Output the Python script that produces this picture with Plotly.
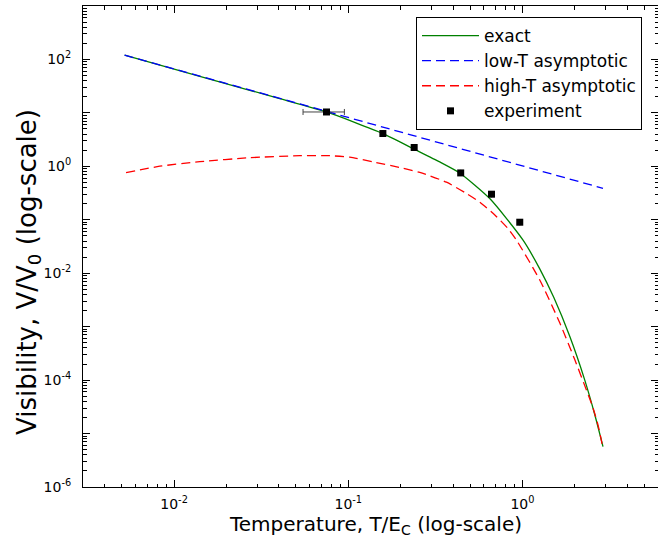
import plotly.graph_objects as go
import math

# ---- data ----
exact_T = [0.0052, 0.01405, 0.0272, 0.0404, 0.075, 0.158, 0.2355, 0.335, 0.436,
           0.649, 1.008, 1.257, 1.512, 1.868, 2.279, 2.6, 2.9]
exact_V = [120, 48.4, 26.5, 18.5, 10.4, 4.11, 2.15, 1.21, 0.753,
           0.250, 0.0416, 0.01208, 3.54e-3, 6.61e-4, 1.0e-4, 2.27e-5, 5.68e-6]

lowT_T = [0.0052, 2.9]
lowT_V = [120, 0.388]

highT_T = [0.0053, 0.00828, 0.01405, 0.0272, 0.0527, 0.0783, 0.102, 0.1388, 0.1975, 0.2573,
           0.3663, 0.477, 0.5687, 0.701, 0.827, 0.924, 1.257, 1.637, 1.996, 2.33,
           2.543, 2.716, 2.9]
highT_V = [0.76, 1.005, 1.22, 1.45, 1.58, 1.58, 1.48, 1.21, 0.95, 0.77,
           0.505, 0.310, 0.2133, 0.1193, 0.0682, 0.0416, 7.48e-3, 1.18e-3, 2.42e-4, 6.51e-5,
           3.0e-5, 1.44e-5, 5.3e-6]

exp_T = [0.075, 0.158, 0.239, 0.442, 0.664, 0.965]
exp_V = [10.4, 4.11, 2.25, 0.753, 0.301, 0.090]
exp_Terr = [0.02, 0, 0, 0, 0, 0]

x_major = [0.01, 0.1, 1]
x_major_text = ["10<sup>-2</sup>", "10<sup>-1</sup>", "10<sup>0</sup>"]
y_major = [1e-6, 1e-5, 1e-4, 1e-3, 1e-2, 1e-1, 1, 10, 100, 1000]
y_major_text = ["10<sup>-6</sup>", "", "10<sup>-4</sup>", "", "10<sup>-2</sup>", "",
                "10<sup>0</sup>", "", "10<sup>2</sup>", ""]

x_minor = [m * 10 ** e for e in range(-3, 1) for m in range(2, 10)]
y_minor = [m * 10 ** e for e in range(-6, 3) for m in range(2, 10)]

x_title = "Temperature, T/E<sub>C</sub> (log-scale)"
y_title = "Visibility, V/V<sub>0</sub> (log-scale)"

FONT = "DejaVu Sans"
W, H = 658, 545
L, R, T, B = 83, 0, 6, 58

fig = go.Figure()
fig.add_trace(go.Scatter(x=exact_T, y=exact_V, mode="lines", name="exact",
                         line=dict(color="#008000", width=1.3, shape="spline", smoothing=0.6)))
fig.add_trace(go.Scatter(x=lowT_T, y=lowT_V, mode="lines", name="low-T asymptotic",
                         line=dict(color="#0000ff", width=1.3, dash="9px,5px")))
fig.add_trace(go.Scatter(x=highT_T, y=highT_V, mode="lines", name="high-T asymptotic",
                         line=dict(color="#ff0000", width=1.3, dash="9px,5px",
                                   shape="spline", smoothing=0.6)))
fig.add_trace(go.Scatter(x=exp_T, y=exp_V, mode="markers", name="experiment",
                         marker=dict(symbol="square", size=7, color="black"),
                         error_x=dict(type="data", array=exp_Terr, color="#444444",
                                      thickness=1, width=3)))

axis_common = dict(showline=True, linecolor="black", linewidth=1, mirror="ticks",
                   ticks="inside", tickcolor="black", ticklen=7, tickwidth=1,
                   showgrid=False, zeroline=False, automargin=False,
                   tickfont=dict(family=FONT, size=14, color="black"))

fig.update_xaxes(type="log", range=[math.log10(0.003), math.log10(6)],
                 tickmode="array", tickvals=x_major, ticktext=x_major_text,
                 ticklabelstandoff=4,
                 minor=dict(tickmode="array", tickvals=x_minor, ticks="inside",
                            ticklen=3.5, tickcolor="black", tickwidth=1, showgrid=False),
                 **axis_common)
fig.update_yaxes(type="log", range=[-6, 3],
                 tickmode="array", tickvals=y_major, ticktext=y_major_text,
                 ticklabelstandoff=8,
                 minor=dict(tickmode="array", tickvals=y_minor, ticks="inside",
                            ticklen=3.5, tickcolor="black", tickwidth=1, showgrid=False),
                 **axis_common)

# axis titles placed as annotations (paper coords derived from pixel layout)
fig.add_annotation(text=x_title, xref="paper", yref="paper",
                   x=(375.5 - L) / (W - L - R), y=-(525 - (H - B)) / (H - T - B),
                   xanchor="center", yanchor="middle", showarrow=False,
                   font=dict(family=FONT, size=20, color="black"))
fig.add_annotation(text=y_title, xref="paper", yref="paper",
                   x=-(L - 28) / (W - L - R), y=1 - (272 - T) / (H - T - B),
                   xanchor="center", yanchor="middle", textangle=-90, showarrow=False,
                   font=dict(family=FONT, size=26, color="black"))

fig.update_layout(
    width=W, height=H,
    margin=dict(l=L, r=R, t=T, b=B),
    paper_bgcolor="white", plot_bgcolor="white",
    font=dict(family=FONT, color="black"),
    legend=dict(x=(416 - L) / (W - L - R), y=1 - 11 / (H - T - B),
                xanchor="left", yanchor="top",
                bgcolor="white", bordercolor="black", borderwidth=1,
                font=dict(family=FONT, size=17, color="black"),
                itemwidth=57, tracegroupgap=0),
    showlegend=True,
)

fig.write_html("out.html", config={"displayModeBar": False},
               post_script="document.body.style.margin='0';document.body.style.padding='0';")
